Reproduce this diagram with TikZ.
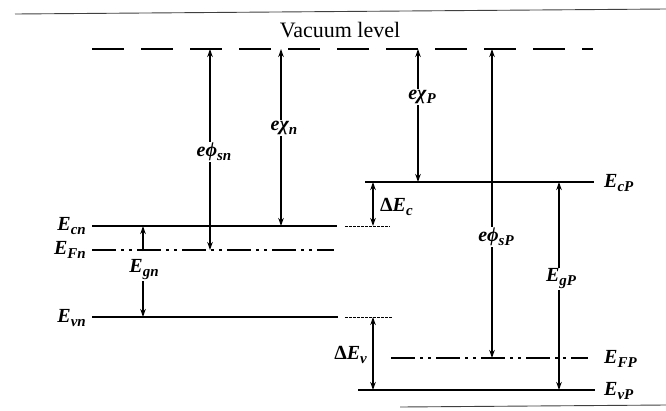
\documentclass[tikz,border=0pt]{standalone}
\usepackage{fontspec}
\setmainfont{Liberation Serif}
\usetikzlibrary{arrows.meta}
\newcommand\lowsub[1]{\raisebox{-4pt}{\fontsize{15}{15}\selectfont #1}}
\begin{document}
\begin{tikzpicture}[x=1pt,y=-1pt,
  lvl/.style={line width=2.6pt},
  vac/.style={line width=2.6pt, dash pattern=on 32pt off 17pt},
  fermi/.style={line width=2.2pt, dash pattern=on 24pt off 5pt on 3pt off 5pt on 3pt off 5pt},
  ext/.style={line width=0.8pt, dash pattern=on 3pt off 1pt},
  arr/.style={line width=1.2pt, -{Stealth[length=8pt,width=5.5pt]}},
  arrb/.style={line width=1.2pt, {Stealth[length=8pt,width=5.5pt]}-{Stealth[length=8pt,width=5.5pt]}},
  lab/.style={font=\fontsize{20}{22}\selectfont\bfseries\itshape, inner sep=1pt},
  scan/.style={line width=0.9pt, black!75},
]
\useasboundingbox (0,0) rectangle (666,410);
% scan edges
\coordinate (t1) at (15,14); \coordinate (t2) at (666,9);
\draw[scan] (t1) -- (t2);
\coordinate (b1) at (400,407); \coordinate (b2) at (666,405);
\draw[scan] (b1) -- (b2);

% vacuum level
\coordinate (vacL) at (92,49); \coordinate (vacR) at (593,49);
\draw[vac] (vacL) -- (vacR);
\node[font=\fontsize{22}{24}\selectfont] (vactxt) at (340,30) {Vacuum level};

% n side levels
\coordinate (cnL) at (92,226); \coordinate (cnR) at (337,226);
\coordinate (cnxL) at (345,226); \coordinate (cnxR) at (390,226);
\draw[lvl] (cnL) -- (cnR);
\draw[ext] (cnxL) -- (cnxR);
\coordinate (fnL) at (92,250); \coordinate (fnR) at (334,250);
\draw[fermi] (fnL) -- (fnR);
\coordinate (vnL) at (92,317); \coordinate (vnR) at (338,317);
\coordinate (vnxL) at (345,317); \coordinate (vnxR) at (393,317);
\draw[lvl] (vnL) -- (vnR);
\draw[ext] (vnxL) -- (vnxR);

% p side levels
\coordinate (cpL) at (365,182); \coordinate (cpR) at (594,182);
\draw[lvl] (cpL) -- (cpR);
\coordinate (fpL) at (391,358); \coordinate (fpR) at (588,358);
\draw[fermi] (fpL) -- (fpR);
\coordinate (vpL) at (358,390); \coordinate (vpR) at (595,390);
\draw[lvl] (vpL) -- (vpR);

% level labels
\node[lab, anchor=east] (Ecn) at (87,226) {E\lowsub{cn}};
\node[lab, anchor=east] (EFn) at (87,250) {E\lowsub{Fn}};
\node[lab, anchor=east] (Evn) at (87,318) {E\lowsub{vn}};
\node[lab, anchor=west] (EcP) at (603,183) {E\lowsub{cP}};
\node[lab, anchor=west] (EFP) at (603,359) {E\lowsub{FP}};
\node[lab, anchor=west] (EvP) at (603,391) {E\lowsub{vP}};

% e phi_sn
\coordinate (psnT) at (210,49); \coordinate (psnB) at (210,250);
\node[lab] (psn) at (214,152) {eϕ\lowsub{sn}};
\draw[arr] (psnT |- psn.north) -- (psnT);
\draw[arr] (psnB |- psn.south) -- (psnB);

% e chi_n
\coordinate (xnT) at (281,49); \coordinate (xnB) at (281,226);
\node[lab] (xn) at (284,128) {eχ\lowsub{n}};
\draw[arr] (xnT |- xn.north) -- (xnT);
\draw[arr] (xnB |- xn.south) -- (xnB);

% e chi_P
\coordinate (xpT) at (418,49); \coordinate (xpB) at (418,182);
\node[lab] (xp) at (422,97) {eχ\lowsub{P}};
\draw[arr] (xpT |- xp.north) -- (xpT);
\draw[arr] (xpB |- xp.south) -- (xpB);

% e phi_sP
\coordinate (pspT) at (492,49); \coordinate (pspB) at (492,358);
\node[lab] (psp) at (496,237) {eϕ\lowsub{sP}};
\draw[arr] (pspT |- psp.north) -- (pspT);
\draw[arr] (pspB |- psp.south) -- (pspB);

% E_gP
\coordinate (gpT) at (559,182); \coordinate (gpB) at (559,390);
\node[lab] (gp) at (561,279) {E\lowsub{gP}};
\draw[arr] (gpT |- gp.north) -- (gpT);
\draw[arr] (gpB |- gp.south) -- (gpB);

% E_gn
\coordinate (gnT) at (143,226); \coordinate (gnM) at (143,251); \coordinate (gnB) at (143,317);
\node[lab] (gn) at (144,270) {E\lowsub{gn}};
\draw[arr] (gnM) -- (gnT);
\draw[arr] (gnB |- gn.south) -- (gnB);

% Delta E_c
\coordinate (dcT) at (373,182); \coordinate (dcB) at (373,226);
\draw[arrb] (dcT) -- (dcB);
\node[lab, anchor=west] (dEc) at (379,207) {\textup{Δ}E\lowsub{c}};

% Delta E_v
\coordinate (dvT) at (373,317); \coordinate (dvB) at (373,390);
\draw[arrb] (dvT) -- (dvB);
\node[lab, anchor=east] (dEv) at (368,355) {\textup{Δ}E\lowsub{v}};
\end{tikzpicture}
\end{document}
